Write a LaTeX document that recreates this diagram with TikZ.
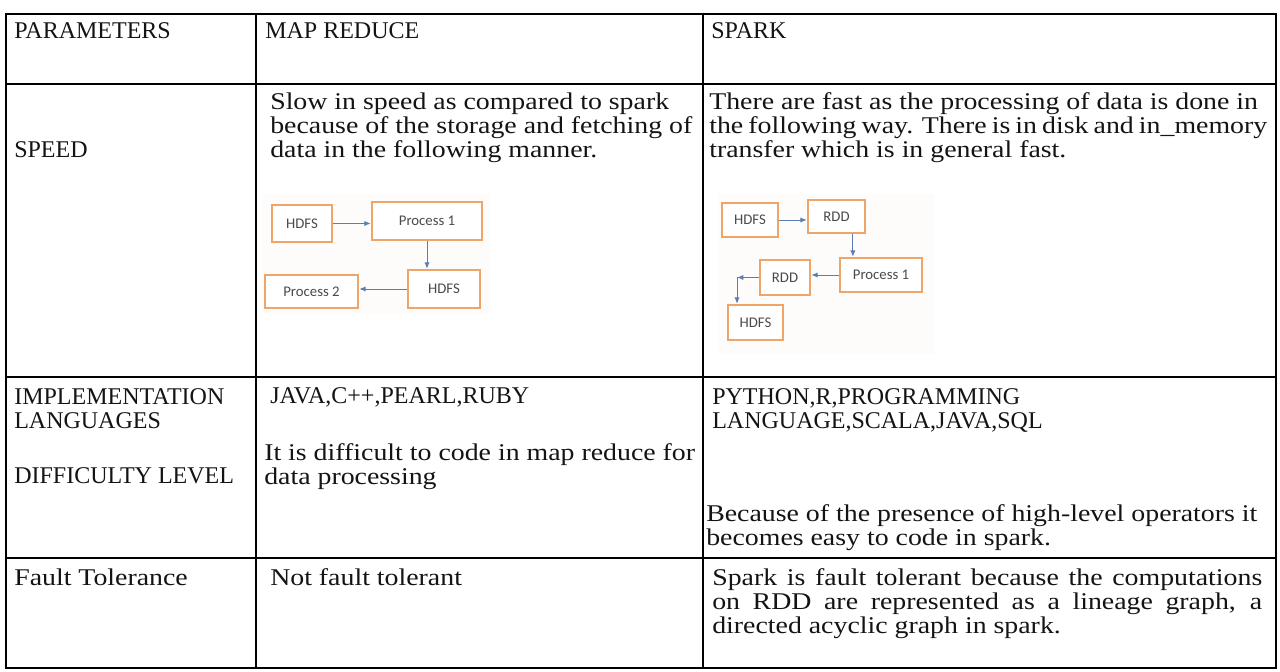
\documentclass[tikz,border=0pt]{standalone}
\usepackage{fontspec}
\setmainfont[FakeStretch=1.16]{Liberation Serif}
\newfontfamily\capsfont[FakeStretch=1.0]{Liberation Serif}
\newfontfamily\boxfont{Carlito}
\usepackage{tikz}
\usetikzlibrary{arrows.meta}
\definecolor{GridLine}{HTML}{000000}
\definecolor{CellText}{HTML}{141414}
\definecolor{BoxOrange}{HTML}{EFA468}
\definecolor{BoxText}{HTML}{4A4A4A}
\definecolor{ArrowBlue}{HTML}{5B7DB5}
\definecolor{ShotTint}{HTML}{FDFCFA}

\begin{document}
\begin{tikzpicture}[x=1cm,y=1cm,
	celltext/.style={anchor=west, inner sep=0pt, text=CellText, font=\fontsize{17.07}{17.07}\selectfont},
	capstext/.style={celltext, font=\capsfont\fontsize{17.07}{17.07}\selectfont},
	cellblock/.style={anchor=north west, inner sep=0pt, align=left, text=CellText, font=\fontsize{17.07}{17.07}\selectfont},
	capsblock/.style={cellblock, font=\capsfont\fontsize{17.07}{17.07}\selectfont},
	stagebox/.style={draw=BoxOrange, line width=1.7pt, fill=white, inner sep=0pt, text=BoxText, font=\boxfont\fontsize{10.5}{12}\selectfont},
	flow/.style={-{Latex[length=1.6mm,width=1.3mm]}, draw=ArrowBlue, line width=0.7pt}]
	\fill[white] (0,0) rectangle (32,16.8);

	% table grid
	\draw[GridLine, line width=1.4pt] (0.15,0.10) rectangle (31.90,16.45);
	\foreach \rowy in {14.70,7.375,2.85} {
		\draw[GridLine, line width=1.4pt] (0.15,\rowy) -- (31.90,\rowy);
	}
	\foreach \colx in {6.40,17.575} {
		\draw[GridLine, line width=1.4pt] (\colx,0.10) -- (\colx,16.45);
	}

	% header row
	\node[capstext] (hparam) at (0.35,16.025) {PARAMETERS};
	\node[capstext] (hmap) at (6.625,16.025) {MAP REDUCE};
	\node[capstext] (hspark) at (17.775,16.025) {SPARK};

	% speed row
	\node[capstext] (lspeed) at (0.35,13.05) {SPEED};
	\node[cellblock] (mrspeed) at (6.75,14.485) {Slow in speed as compared to spark\\because of the storage and fetching of\\data in the following manner.};
	\node[cellblock] (spspeed) at (17.725,14.485) {There are fast as the processing of data is done in\\\makebox[13.95cm][s]{the following way. There is in disk and in\_memory}\\transfer which is in general fast.};

	% pasted flow sketches
	\fill[ShotTint] (6.55,8.95) rectangle (12.25,11.95);
	\fill[ShotTint] (17.95,7.95) rectangle (23.35,11.95);

	\node[stagebox, minimum width=1.5cm, minimum height=0.925cm] (mrhdfsa) at (7.55,11.2125) {HDFS};
	\node[stagebox, minimum width=2.75cm, minimum height=0.95cm] (mrproca) at (10.675,11.275) {Process 1};
	\node[stagebox, minimum width=1.8cm, minimum height=0.95cm] (mrhdfsb) at (11.1,9.575) {HDFS};
	\node[stagebox, minimum width=2.325cm, minimum height=0.825cm] (mrprocb) at (7.7875,9.5125) {Process 2};
	\draw[flow] (mrhdfsa.east) -- (mrhdfsa.east -| mrproca.west);
	\draw[flow] (mrproca.south) -- (mrproca.south |- mrhdfsb.north);
	\draw[flow] (mrhdfsb.west) -- (mrhdfsb.west -| mrprocb.east);

	\node[stagebox, minimum width=1.4cm, minimum height=0.85cm] (sphdfsa) at (18.75,11.3) {HDFS};
	\node[stagebox, minimum width=1.425cm, minimum height=0.825cm] (sprdda) at (20.9125,11.3875) {RDD};
	\node[stagebox, minimum width=2.05cm, minimum height=0.85cm] (spproc) at (22.025,9.925) {Process 1};
	\node[stagebox, minimum width=1.25cm, minimum height=0.875cm] (sprddb) at (19.625,9.8625) {RDD};
	\node[stagebox, minimum width=1.375cm, minimum height=0.875cm] (sphdfsb) at (18.8875,8.7375) {HDFS};
	\coordinate (rddtap) at ([xshift=0.41cm]sprdda.south);
	\coordinate (bend) at (18.425,9.8625);
	\draw[flow] (sphdfsa.east) -- (sphdfsa.east -| sprdda.west);
	\draw[flow] (rddtap) -- (rddtap |- spproc.north);
	\draw[flow] (spproc.west) -- (spproc.west -| sprddb.east);
	\draw[flow] (sprddb.west) -- (bend);
	\draw[flow] (bend) -- (bend |- sphdfsb.north);

	% languages and difficulty row
	\node[capsblock] (limpl) at (0.35,7.085) {IMPLEMENTATION\\LANGUAGES};
	\node[capstext] (ldiff) at (0.35,4.90) {DIFFICULTY LEVEL};
	\node[capstext] (mrlang) at (6.75,6.875) {JAVA,C++,PEARL,RUBY};
	\node[cellblock] (mrdiff) at (6.60,5.71) {It is difficult to code in map reduce for\\data processing};
	\node[capsblock] (splang) at (17.80,7.085) {PYTHON,R,PROGRAMMING\\LANGUAGE,SCALA,JAVA,SQL};
	\node[cellblock] (spdiff) at (17.65,4.185) {Because of the presence of high-level operators it\\becomes easy to code in spark.};

	% fault tolerance row
	\node[celltext] (lfault) at (0.35,2.375) {Fault Tolerance};
	\node[celltext] (mrfault) at (6.75,2.375) {Not fault tolerant};
	\node[cellblock] (spfault) at (17.80,2.585) {\makebox[13.75cm][s]{Spark is fault tolerant because the computations}\\\makebox[13.75cm][s]{on RDD are represented as a lineage graph, a}\\directed acyclic graph in spark.};
\end{tikzpicture}
\end{document}
